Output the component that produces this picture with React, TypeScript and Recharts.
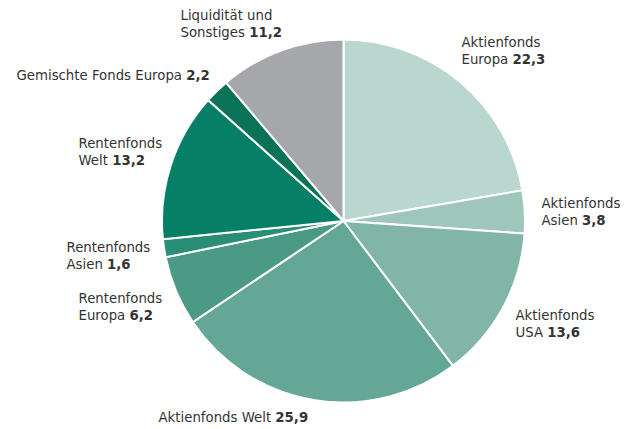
import { PieChart, Pie, Cell } from "recharts";

// Portfolio-Aufteilung in Prozent
const categories = [
  "Aktienfonds Europa",
  "Aktienfonds Asien",
  "Aktienfonds USA",
  "Aktienfonds Welt",
  "Rentenfonds Europa",
  "Rentenfonds Asien",
  "Rentenfonds Welt",
  "Gemischte Fonds Europa",
  "Liquidität und Sonstiges",
];
const values = [22.3, 3.8, 13.6, 25.9, 6.2, 1.6, 13.2, 2.2, 11.2];
// how each label is split over lines (last line gets the value)
const labelLines = [
  ["Aktienfonds", "Europa"],
  ["Aktienfonds", "Asien"],
  ["Aktienfonds", "USA"],
  ["Aktienfonds Welt"],
  ["Rentenfonds", "Europa"],
  ["Rentenfonds", "Asien"],
  ["Rentenfonds", "Welt"],
  ["Gemischte Fonds Europa"],
  ["Liquidität und", "Sonstiges"],
];

const colors = [
  "#bad7cf",
  "#9fc6ba",
  "#80b5a7",
  "#64a796",
  "#4a9a86",
  "#2a8d75",
  "#057f65",
  "#0a7357",
  "#a6a7aa",
];

// label anchor (first baseline) relative to the pie centre
const labelOffsets = [
  [118, -174],
  [198, -13],
  [172, 99],
  [-185, 201],
  [-265, 82],
  [-277, 31],
  [-265, -73],
  [-327, -141],
  [-163, -201],
];

const chartData = categories.map((name, i) => ({ name, value: values[i] }));

const fmt = (v: number) => v.toFixed(1).replace(".", ",");

function renderLabel(props: any) {
  const { cx, cy, index, value } = props;
  const [dx, dy] = labelOffsets[index];
  const lines = labelLines[index];
  const x = cx + dx;
  return (
    <g>
      {lines.map((line, i) => {
        const last = i === lines.length - 1;
        return (
          <text
            key={i}
            x={x}
            y={cy + dy + i * 17}
            fill="#333"
            fontSize={13.3}
            fontFamily="'DejaVu Sans', sans-serif"
            textAnchor="start"
          >
            {last ? line + " " : line}
            {last && <tspan fontWeight="bold">{fmt(value)}</tspan>}
          </text>
        );
      })}
    </g>
  );
}

export default function App() {
  return (
    <div style={{ position: "absolute", left: 0, top: 0, background: "#fff" }}>
      <PieChart width={633} height={429} margin={{ top: 0, right: 0, bottom: 0, left: 0 }}>
        <Pie
          data={chartData}
          dataKey="value"
          nameKey="name"
          cx={343.5}
          cy={221}
          outerRadius={181.5}
          startAngle={90}
          endAngle={-270}
          stroke="#fff"
          strokeWidth={2}
          label={renderLabel}
          labelLine={false}
          isAnimationActive={false}
        >
          {chartData.map((d, i) => (
            <Cell key={d.name} fill={colors[i]} />
          ))}
        </Pie>
      </PieChart>
    </div>
  );
}
